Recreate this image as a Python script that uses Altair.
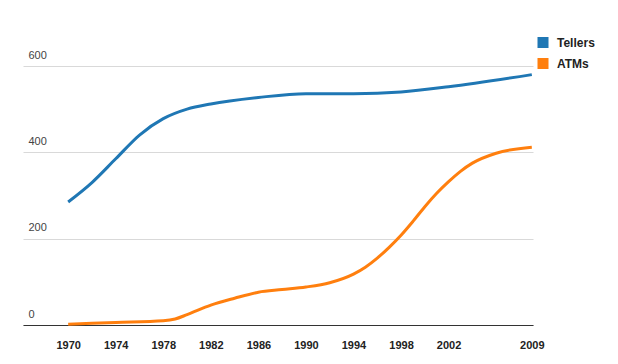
import altair as alt
import pandas as pd

teller_years = [1970, 1972, 1974, 1976, 1978, 1980, 1982, 1986, 1990, 1994, 1998, 2002, 2009]
teller_vals = [285, 330, 385, 440, 478, 500, 512, 527, 536, 536, 540, 552, 580]

atm_years = [1970, 1974, 1978, 1979, 1980, 1982, 1984, 1986, 1988, 1990, 1992, 1994, 1995,
             1996, 1997, 1998, 1999, 2000, 2001, 2002, 2003, 2004, 2006, 2009]
atm_vals = [2, 6, 10, 14, 24, 46, 62, 76, 82, 88, 98, 118, 134,
            155, 180, 208, 240, 274, 305, 332, 356, 375, 398, 412]

series_names = ["Tellers", "ATMs"]
series_colors = ["#1f77b4", "#ff7f0e"]
x_ticks = [1970, 1974, 1978, 1982, 1986, 1990, 1994, 1998, 2002, 2009]
y_ticks = [0, 200, 400, 600]

df = pd.concat([
    pd.DataFrame({"year": teller_years, "value": teller_vals, "series": "Tellers"}),
    pd.DataFrame({"year": atm_years, "value": atm_vals, "series": "ATMs"}),
])

font = "Liberation Sans"

chart = alt.Chart(df).mark_line(interpolate="monotone", strokeWidth=3).encode(
    x=alt.X("year:Q", scale=alt.Scale(domain=[1966.2, 2009.1], nice=False, zero=False),
            axis=alt.Axis(values=x_ticks, format="d", title=None, grid=False, ticks=False,
                          domainColor="#333", domainWidth=1, labelFont=font, labelFontSize=11,
                          labelFontWeight="bold", labelColor="#222", labelPadding=14)),
    y=alt.Y("value:Q", scale=alt.Scale(domain=[0, 600], nice=False),
            axis=alt.Axis(values=y_ticks, title=None, domain=False, ticks=False,
                          gridColor="#d9d9d9", gridWidth=1, labelFont=font, labelFontSize=11,
                          labelColor="#444", labelAlign="left", labelBaseline="bottom",
                          labelPadding=-5, labelOffset=-6)),
    color=alt.Color("series:N", sort=series_names,
                    scale=alt.Scale(domain=series_names, range=series_colors),
                    legend=alt.Legend(title=None, orient="none", legendX=514, legendY=-30,
                                      symbolType="square", symbolSize=1, symbolStrokeWidth=10,
                                      symbolOpacity=1, clipHeight=13,
                                      labelFont=font, labelFontSize=12, labelFontWeight="bold",
                                      labelColor="#222", rowPadding=8, labelOffset=8)),
).properties(
    width=510, height=259,
    padding={"left": 15, "top": 58, "right": 77, "bottom": 31},
    autosize=alt.AutoSizeParams(type="none"),
).configure_view(stroke=None)

chart.save("out.html", embed_options={"renderer": "svg", "actions": False})
